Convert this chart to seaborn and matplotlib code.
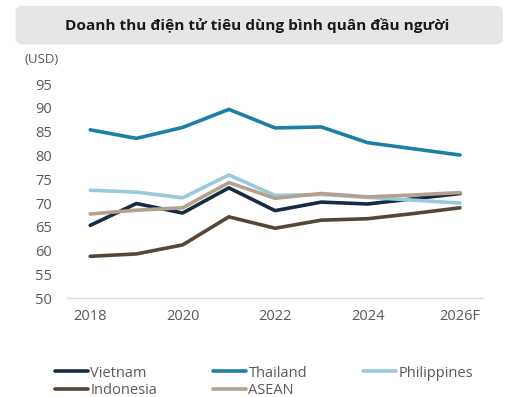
import pandas as pd
import matplotlib.pyplot as plt
import seaborn as sns
from matplotlib.patches import FancyBboxPatch
from matplotlib.lines import Line2D

# ---- data ----
years = [2018, 2019, 2020, 2021, 2022, 2023, 2024, 2025, 2026]
vietnam = [65.3, 69.9, 67.9, 73.2, 68.4, 70.2, 69.8, 70.9, 72.0]
thailand = [85.4, 83.6, 85.9, 89.7, 85.8, 86.0, 82.7, 81.4, 80.1]
philippines = [72.7, 72.3, 71.1, 75.9, 71.6, 71.8, 71.2, 70.6, 70.0]
indonesia = [58.8, 59.3, 61.2, 67.1, 64.7, 66.4, 66.7, 67.8, 69.0]
asean = [67.7, 68.5, 69.0, 74.3, 71.0, 72.0, 71.3, 71.7, 72.2]

countries = ["Vietnam", "Thailand", "Philippines", "Indonesia", "ASEAN"]
colors = ["#172b45", "#1d7fa3", "#9ac9dd", "#554638", "#b3a08d"]
tick_years = [2018, 2020, 2022, 2024, 2026]
tick_labels = ["2018", "2020", "2022", "2024", "2026F"]

series = [vietnam, thailand, philippines, indonesia, asean]
df = pd.concat(
    [pd.DataFrame({"year": years, "value": v, "country": c}) for c, v in zip(countries, series)],
    ignore_index=True,
)

sns.set_style("white")
plt.rcParams["font.family"] = ["Open Sans", "DejaVu Sans"]

fig = plt.figure(figsize=(5.2, 3.97), dpi=100)
ax = fig.add_axes([0.129, 0.249, 0.80, 0.539])

sns.lineplot(
    data=df, x="year", y="value", hue="country", hue_order=countries,
    palette=colors, linewidth=2.6, legend=False, ax=ax,
)

ax.set_xlim(2017.5, 2026.5)
ax.set_ylim(50, 95)
ax.set_yticks(range(50, 96, 5))
ax.set_xticks(tick_years)
ax.set_xticklabels(tick_labels)
ax.set_xlabel("")
ax.set_ylabel("")
ax.tick_params(axis="both", labelsize=10.5, colors="#595959", length=0)
ax.tick_params(axis="y", pad=11)
ax.tick_params(axis="x", pad=8)
for s in ["top", "right", "left"]:
    ax.spines[s].set_visible(False)
ax.spines["bottom"].set_color("#d9d9d9")
ax.spines["bottom"].set_linewidth(1)

# unit label
fig.text(0.048, 0.851, "(USD)", fontsize=9.5, color="#595959", ha="left", va="center")

# title box
box = FancyBboxPatch(
    (0.03, 0.888), 0.937, 0.097, transform=fig.transFigure,
    boxstyle="round,pad=0,rounding_size=0.015", facecolor="#e6e6e6",
    edgecolor="none", zorder=0,
)
fig.patches.append(box)
fig.text(0.495, 0.936, "Doanh thu điện tử tiêu dùng bình quân đầu người",
         fontsize=11.1, fontweight="bold", color="#1a1a1a", ha="center", va="center")

# legend
handles = [Line2D([0], [0], color=c, linewidth=2.6) for c in colors]
order = [0, 3, 1, 4, 2]
fig.legend(
    [handles[i] for i in order], [countries[i] for i in order],
    loc="lower left", bbox_to_anchor=(0.08, -0.035), ncol=3, frameon=False,
    fontsize=10.5, labelcolor="#595959", handlelength=2.3, handletextpad=0.15,
    columnspacing=3.8, labelspacing=0.15,
)

fig.savefig("out.png", dpi=100)
